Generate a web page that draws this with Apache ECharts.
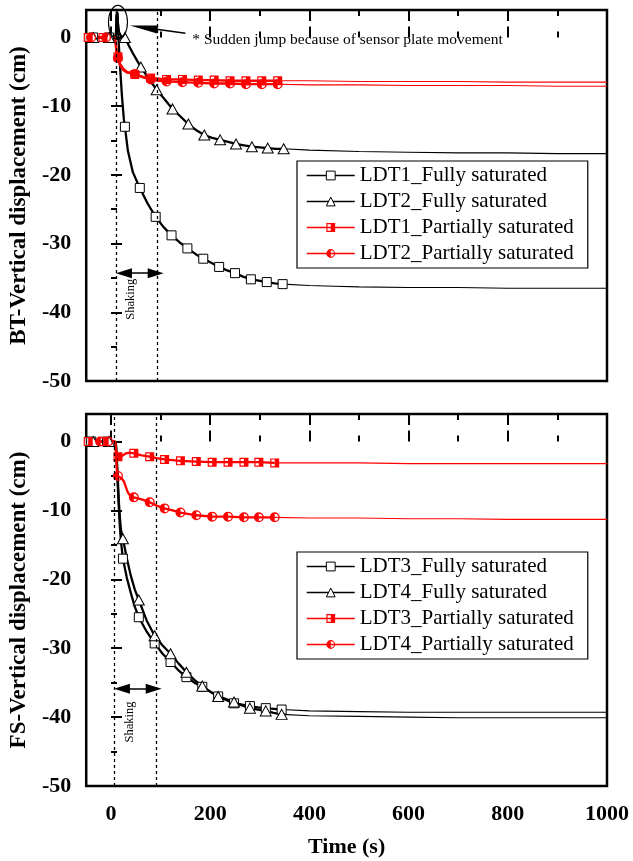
<!DOCTYPE html>
<html>
<head>
<meta charset="utf-8">
<script src="https://cdn.jsdelivr.net/npm/echarts@6.0.0/dist/echarts.min.js"></script>
<style>
html,body{margin:0;padding:0;background:#ffffff;}
#chart{width:633px;height:861px;}
</style>
</head>
<body>
<div id="chart"></div>
<script>
// ---------------- tick values ----------------
const xMajorTicks = [0, 200, 400, 600, 800, 1000];
const xMinorTicks = [100, 300, 500, 700, 900];
const yMajorTicks = [-50, -40, -30, -20, -10, 0];
const yMinorTicks = [-45, -35, -25, -15, -5];

const panelTitles = ['BT-Vertical displacement (cm)', 'FS-Vertical displacement (cm)'];
const xTitle = 'Time (s)';
const shakingLabel = 'Shaking';
const noteText = '* Sudden jump because of sensor plate movement';

// ---------------- BT panel (top) ----------------
// LDT1 fully saturated (open squares)
const btL1FullT = [-50, 8, 10, 11, 12, 13, 15, 18, 22, 26, 28, 34, 44, 58, 74, 90, 106, 122, 138, 154, 170, 186, 202, 218, 234, 250, 266, 282, 298, 314, 330, 346];
const btL1FullV = [0, 0, 0.5, 3.3, 1.0, 3.6, 0, -4, -8.5, -12, -13, -16.5, -19.6, -21.9, -24.2, -26.1, -27.6, -28.8, -29.8, -30.7, -31.5, -32.2, -32.8, -33.4, -33.9, -34.3, -34.8, -35.2, -35.4, -35.6, -35.8, -35.9];
const btL1FullTailT = [346, 400, 450, 500, 600, 700, 800, 900, 1000];
const btL1FullTailV = [-35.9, -36.1, -36.2, -36.3, -36.4, -36.4, -36.5, -36.5, -36.5];
const btL1FullMarkT = [-36, -4, 28, 58, 90, 122, 154, 186, 218, 250, 282, 314, 346];
const btL1FullMarkV = [0, 0, -13, -21.9, -26.1, -28.8, -30.7, -32.2, -33.4, -34.3, -35.2, -35.6, -35.9];

// LDT2 fully saturated (open triangles)
const btL2FullT = [-50, 8, 10, 12, 14, 16, 20, 28, 36, 44, 52, 60, 76, 92, 108, 124, 140, 156, 172, 188, 204, 220, 236, 252, 268, 284, 300, 316, 332, 348];
const btL2FullV = [0, 0, 0.5, 3.8, 2.0, 0.8, 0.2, 0, -1.2, -2.3, -3.3, -4.3, -6, -7.6, -9, -10.4, -11.5, -12.6, -13.5, -14.2, -14.6, -14.9, -15.2, -15.5, -15.7, -15.9, -16.0, -16.1, -16.2, -16.2];
const btL2FullTailT = [348, 400, 500, 600, 700, 800, 900, 1000];
const btL2FullTailV = [-16.2, -16.4, -16.6, -16.7, -16.8, -16.8, -16.9, -16.9];
const btL2FullMarkT = [-36, -4, 28, 60, 92, 124, 156, 188, 220, 252, 284, 316, 348];
const btL2FullMarkV = [0, 0, 0, -4.3, -7.6, -10.4, -12.6, -14.2, -14.9, -15.5, -15.9, -16.1, -16.2];

// LDT1 partially saturated (half-filled squares)
const btL1PartT = [-50, 8, 10, 12, 14, 18, 24, 32, 40, 48, 64, 80, 96, 112, 144, 176, 208, 240, 272, 304, 336];
const btL1PartV = [0, 0, -1, -2.5, -2.8, -3.8, -4.5, -5.0, -5.2, -5.4, -5.7, -5.9, -6.0, -6.1, -6.1, -6.2, -6.2, -6.3, -6.3, -6.3, -6.3];
const btL1PartTailT = [336, 400, 500, 600, 700, 800, 900, 1000];
const btL1PartTailV = [-6.3, -6.3, -6.4, -6.4, -6.4, -6.5, -6.5, -6.5];
const btL1PartMarkT = [-46, -16, 14, 48, 80, 112, 144, 176, 208, 240, 272, 304, 336];
const btL1PartMarkV = [0, 0, -2.8, -5.4, -5.9, -6.1, -6.1, -6.2, -6.2, -6.3, -6.3, -6.3, -6.3];

// LDT2 partially saturated (half-filled circles)
const btL2PartT = [-50, 8, 10, 12, 14, 18, 24, 32, 40, 48, 64, 80, 96, 112, 144, 176, 208, 240, 272, 304, 336];
const btL2PartV = [0, 0, -1.5, -2.7, -3.0, -4.0, -4.7, -5.1, -5.2, -5.3, -5.8, -6.1, -6.3, -6.4, -6.5, -6.6, -6.7, -6.7, -6.8, -6.8, -6.8];
const btL2PartTailT = [336, 400, 500, 600, 700, 800, 900, 1000];
const btL2PartTailV = [-6.8, -6.9, -6.9, -7.0, -7.0, -7.0, -7.1, -7.1];
const btL2PartMarkT = [-40, -10, 14, 48, 80, 112, 144, 176, 208, 240, 272, 304, 336];
const btL2PartMarkV = [0, 0, -3.0, -5.3, -6.1, -6.4, -6.5, -6.6, -6.7, -6.7, -6.8, -6.8, -6.8];

// ---------------- FS panel (bottom) ----------------
// LDT3 fully saturated (open squares)
const fsL3FullT = [-50, 8, 10, 12, 14, 16, 18, 20, 24, 32, 40, 48, 56, 72, 88, 104, 120, 136, 152, 168, 184, 200, 216, 232, 248, 264, 280, 296, 312, 328, 344];
const fsL3FullV = [0, 0, -0.5, -3.5, -7, -10, -12.5, -14.5, -17, -19.8, -22, -24, -25.5, -27.6, -29.3, -30.8, -32, -33.2, -34.2, -35, -35.6, -36.3, -37, -37.5, -38, -38.2, -38.4, -38.6, -38.7, -38.8, -38.9];
const fsL3FullTailT = [344, 400, 500, 600, 700, 800, 900, 1000];
const fsL3FullTailV = [-38.9, -39.1, -39.2, -39.3, -39.3, -39.3, -39.3, -39.3];
const fsL3FullMarkT = [-40, -8, 24, 56, 88, 120, 152, 184, 216, 248, 280, 312, 344];
const fsL3FullMarkV = [0, 0, -17, -25.5, -29.3, -32, -34.2, -35.6, -37, -38, -38.4, -38.7, -38.9];

// LDT4 fully saturated (open triangles)
const fsL4FullT = [-50, 8, 10, 12, 14, 16, 18, 20, 24, 32, 40, 48, 56, 72, 88, 104, 120, 136, 152, 168, 184, 200, 216, 232, 248, 264, 280, 296, 312, 328, 344];
const fsL4FullV = [0, 0, -0.5, -3, -6, -9, -11.2, -12.8, -14.1, -17, -19.5, -21.5, -23, -26, -28.2, -29.6, -30.8, -32.2, -33.5, -34.6, -35.5, -36.3, -37, -37.4, -37.8, -38.3, -38.7, -38.9, -39.1, -39.4, -39.6];
const fsL4FullTailT = [344, 400, 500, 600, 700, 800, 900, 1000];
const fsL4FullTailV = [-39.6, -39.8, -39.9, -40.0, -40.1, -40.1, -40.1, -40.1];
const fsL4FullMarkT = [-36, -4, 24, 56, 88, 120, 152, 184, 216, 248, 280, 312, 344];
const fsL4FullMarkV = [0, 0, -14.1, -23, -28.2, -30.8, -33.5, -35.5, -37, -37.8, -38.7, -39.1, -39.6];

// LDT3 partially saturated (half-filled squares)
const fsL3PartT = [-50, 8, 10, 12, 14, 18, 24, 30, 38, 46, 62, 78, 92, 108, 124, 140, 172, 204, 236, 268, 298, 330];
const fsL3PartV = [0, 0, -1, -2.2, -2.3, -2.3, -2.0, -1.7, -1.6, -1.7, -2.0, -2.2, -2.4, -2.6, -2.7, -2.8, -2.9, -3.0, -3.0, -3.0, -3.0, -3.1];
const fsL3PartTailT = [330, 400, 500, 600, 700, 800, 900, 1000];
const fsL3PartTailV = [-3.1, -3.1, -3.1, -3.2, -3.2, -3.2, -3.2, -3.2];
const fsL3PartMarkT = [-46, -14, 14, 46, 78, 108, 140, 172, 204, 236, 268, 298, 330];
const fsL3PartMarkV = [0, 0, -2.2, -1.7, -2.2, -2.6, -2.8, -2.9, -3.0, -3.0, -3.0, -3.0, -3.1];

// LDT4 partially saturated (half-filled circles)
const fsL4PartT = [-50, 8, 10, 12, 14, 18, 22, 26, 30, 34, 38, 46, 62, 78, 92, 108, 124, 140, 172, 204, 236, 268, 298, 330];
const fsL4PartV = [0, 0, -2, -4.5, -5.0, -5.2, -5.4, -5.8, -6.6, -7.4, -7.8, -8.1, -8.4, -8.8, -9.3, -9.7, -10.0, -10.3, -10.7, -10.9, -10.9, -11.0, -11.0, -11.0];
const fsL4PartTailT = [330, 400, 500, 600, 700, 800, 900, 1000];
const fsL4PartTailV = [-11.0, -11.1, -11.1, -11.2, -11.2, -11.3, -11.3, -11.3];
const fsL4PartMarkT = [-22, -6, 14, 46, 78, 108, 140, 172, 204, 236, 268, 298, 330];
const fsL4PartMarkV = [0, 0, -5.0, -8.1, -8.8, -9.7, -10.3, -10.7, -10.9, -10.9, -11.0, -11.0, -11.0];

// ---------------- annotation anchors (data coordinates) ----------------
const shakeStart = [10, 6];     // per panel: dotted line at shaking start (s)
const shakeEnd = [94, 92];      // per panel: dotted line at shaking end (s)
const arrowLevel = [-34.3, -35.9];
const arrowTip = [[10, 106], [6, 102]];

// ======================================================================
const FONT = 'Liberation Serif';
const RED = '#ff0000', BLACK = '#000000';
const HALF_SQ = 'path://M0,0 L10,0 L10,10 L0,10 Z M1.3,1.3 L1.3,8.7 L5,8.7 L5,1.3 Z';
const HALF_CI = 'path://M5,0 A5,5 0 1,1 5,10 A5,5 0 1,1 5,0 Z M5,1.3 L5,8.7 A3.7,3.7 0 0,0 5,1.3 Z';
const zip = (a, b) => a.map((x, i) => [x, b[i]]);

const curves = [
  {g: 0, name: 'LDT1_Fully saturated', kind: 'sq', lt: btL1FullT, lv: btL1FullV, tt: btL1FullTailT, tv: btL1FullTailV, mt: btL1FullMarkT, mv: btL1FullMarkV},
  {g: 0, name: 'LDT2_Fully saturated', kind: 'tri', lt: btL2FullT, lv: btL2FullV, tt: btL2FullTailT, tv: btL2FullTailV, mt: btL2FullMarkT, mv: btL2FullMarkV},
  {g: 0, name: 'LDT1_Partially saturated', kind: 'hsq', lt: btL1PartT, lv: btL1PartV, tt: btL1PartTailT, tv: btL1PartTailV, mt: btL1PartMarkT, mv: btL1PartMarkV},
  {g: 0, name: 'LDT2_Partially saturated', kind: 'hci', lt: btL2PartT, lv: btL2PartV, tt: btL2PartTailT, tv: btL2PartTailV, mt: btL2PartMarkT, mv: btL2PartMarkV},
  {g: 1, name: 'LDT3_Fully saturated', kind: 'sq', lt: fsL3FullT, lv: fsL3FullV, tt: fsL3FullTailT, tv: fsL3FullTailV, mt: fsL3FullMarkT, mv: fsL3FullMarkV},
  {g: 1, name: 'LDT4_Fully saturated', kind: 'tri', lt: fsL4FullT, lv: fsL4FullV, tt: fsL4FullTailT, tv: fsL4FullTailV, mt: fsL4FullMarkT, mv: fsL4FullMarkV},
  {g: 1, name: 'LDT3_Partially saturated', kind: 'hsq', lt: fsL3PartT, lv: fsL3PartV, tt: fsL3PartTailT, tv: fsL3PartTailV, mt: fsL3PartMarkT, mv: fsL3PartMarkV},
  {g: 1, name: 'LDT4_Partially saturated', kind: 'hci', lt: fsL4PartT, lv: fsL4PartV, tt: fsL4PartTailT, tv: fsL4PartTailV, mt: fsL4PartMarkT, mv: fsL4PartMarkV}
];

const symbolOf = {sq: 'rect', tri: 'triangle', hsq: HALF_SQ, hci: HALF_CI};
const sizeOf = {sq: 9, tri: [11, 10], hsq: 9, hci: 10};
const underOf = {hsq: 'rect', hci: 'circle'};

const thinS = [], thickS = [], underS = [], markS = [];
curves.forEach(c => {
  const red = c.kind === 'hsq' || c.kind === 'hci';
  const col = red ? RED : BLACK;
  const ax = {xAxisIndex: c.g * 4, yAxisIndex: c.g * 2};
  thinS.push(Object.assign({type: 'line', data: zip(c.tt, c.tv), symbol: 'none', silent: true,
    lineStyle: {color: col, width: 1.1}}, ax));
  thickS.push(Object.assign({type: 'line', data: zip(c.lt, c.lv), symbol: 'none', silent: true,
    lineStyle: {color: col, width: 2.3}}, ax));
  const md = zip(c.mt, c.mv);
  if (red) {
    underS.push(Object.assign({type: 'scatter', data: md, symbol: underOf[c.kind], symbolSize: sizeOf[c.kind],
      silent: true, itemStyle: {color: '#ffffff'}}, ax));
    markS.push(Object.assign({type: 'line', name: c.name, data: md, symbol: symbolOf[c.kind], symbolSize: sizeOf[c.kind],
      showSymbol: true, showAllSymbol: true, silent: true,
      itemStyle: {color: RED, borderColor: RED, borderWidth: 0},
      lineStyle: {width: 0, color: RED}}, ax));
  } else {
    markS.push(Object.assign({type: 'line', name: c.name, data: md, symbol: symbolOf[c.kind], symbolSize: sizeOf[c.kind],
      showSymbol: true, showAllSymbol: true, silent: true,
      itemStyle: {color: '#ffffff', borderColor: BLACK, borderWidth: 1},
      lineStyle: {width: 0, color: BLACK}}, ax));
  }
});

// markLines: dotted shaking bounds on first thin series of each panel; arrows on second
[0, 1].forEach(g => {
  const s1 = thinS[g * 4], s2 = thinS[g * 4 + 1];
  s1.markLine = {silent: true, symbol: 'none', animation: false, label: {show: false},
    lineStyle: {color: BLACK, width: 1.3, type: [3, 3]},
    data: [{xAxis: shakeStart[g]}, {xAxis: shakeEnd[g]}]};
  const headLen = 32; // in seconds (about 16 px)
  const data = [[
    {coord: [arrowTip[g][0] + headLen / 2, arrowLevel[g]], symbol: 'triangle', symbolSize: [10, 16]},
    {coord: [arrowTip[g][1] - headLen / 2, arrowLevel[g]], symbol: 'triangle', symbolSize: [10, 16]}
  ]];
  if (g === 0) {
    data.push([
      {coord: [150, 0.6], symbol: 'none'},
      {coord: [66, 1.45], symbol: 'triangle', symbolSize: [8, 28]}
    ]);
  }
  s2.markLine = {silent: true, animation: false, label: {show: false},
    lineStyle: {color: BLACK, width: 1.5, type: 'solid'}, data: data};
});

const series = [].concat(thinS, thickS, underS, markS);

const grids = [0, 1].map(g => ({
  left: 84, right: 26, top: g === 0 ? 10 : 414, height: g === 0 ? 371 : 372,
  show: true, borderColor: BLACK, borderWidth: 2.5, backgroundColor: 'transparent'
}));

const plainNum = v => String(v);
const xAxes = [], yAxes = [];
[0, 1].forEach(g => {
  const base = {type: 'value', gridIndex: g, min: -50, max: 1000, splitLine: {show: false}, axisLine: {show: false}};
  const tickStyle = {color: BLACK, width: 2};
  xAxes.push(Object.assign({}, base, {position: 'bottom',
    axisTick: {show: true, inside: true, length: 11, customValues: xMajorTicks, lineStyle: tickStyle},
    axisLabel: {show: g === 1, customValues: xMajorTicks, formatter: plainNum, margin: 17, color: BLACK, fontFamily: FONT, fontWeight: 'bold', fontSize: 22},
    name: g === 1 ? xTitle : '', nameLocation: 'middle', nameGap: 50,
    nameTextStyle: {color: BLACK, fontFamily: FONT, fontWeight: 'bold', fontSize: 22}}));
  xAxes.push(Object.assign({}, base, {position: 'bottom',
    axisTick: {show: true, inside: true, length: 6, customValues: xMinorTicks, lineStyle: tickStyle},
    axisLabel: {show: false}}));
  xAxes.push(Object.assign({}, base, {position: 'top',
    axisTick: {show: true, inside: true, length: 11, customValues: xMajorTicks, lineStyle: tickStyle},
    axisLabel: {show: false}}));
  xAxes.push(Object.assign({}, base, {position: 'top',
    axisTick: {show: true, inside: true, length: 6, customValues: xMinorTicks, lineStyle: tickStyle},
    axisLabel: {show: false}}));
  const ybase = {type: 'value', gridIndex: g, min: -50, max: 4, position: 'left', splitLine: {show: false}, axisLine: {show: false}};
  yAxes.push(Object.assign({}, ybase, {
    axisTick: {show: true, inside: true, length: 11, customValues: yMajorTicks, lineStyle: tickStyle},
    axisLabel: {show: true, customValues: yMajorTicks, formatter: plainNum, margin: 15, color: BLACK, fontFamily: FONT, fontWeight: 'bold', fontSize: 22},
    name: panelTitles[g], nameLocation: 'middle', nameGap: 51,
    nameTextStyle: {color: BLACK, fontFamily: FONT, fontWeight: 'bold', fontSize: 23}}));
  yAxes.push(Object.assign({}, ybase, {
    axisTick: {show: true, inside: true, length: 6, customValues: yMinorTicks, lineStyle: tickStyle},
    axisLabel: {show: false}}));
});

const legends = [0, 1].map(g => ({
  orient: 'vertical', left: 297, top: g === 0 ? 161 : 552,
  itemWidth: 48, itemHeight: 11, itemGap: 5, padding: [4, 14, 4, 9],
  borderColor: BLACK, borderWidth: 1.2, backgroundColor: '#ffffff',
  selectedMode: false,
  textStyle: {color: BLACK, fontFamily: FONT, fontSize: 21},
  lineStyle: {width: 1.5},
  itemStyle: {borderWidth: 1},
  data: curves.filter(c => c.g === g).map(c => {
    const red = c.kind === 'hsq' || c.kind === 'hci';
    return red ? {name: c.name, itemStyle: {borderWidth: 0}} : {name: c.name};
  })
}));

const chart = echarts.init(document.getElementById('chart'), null, {renderer: 'canvas'});
chart.setOption({
  animation: false,
  backgroundColor: '#ffffff',
  textStyle: {fontFamily: FONT},
  grid: grids, xAxis: xAxes, yAxis: yAxes, legend: legends, series: series
});

// graphic annotations positioned through the axes
const px = (g, t, v) => chart.convertToPixel({xAxisIndex: g * 4, yAxisIndex: g * 2}, [t, v]);
const e = px(0, 14, 2.2);
const note = px(0, 164, -0.3);
const sh0 = px(0, 40, -38.1);
const sh1 = px(1, 38, -40.7);
chart.setOption({
  graphic: [
    {type: 'ellipse', shape: {cx: e[0], cy: e[1], rx: 9.5, ry: 17}, style: {fill: 'none', stroke: BLACK, lineWidth: 1.1}, z: 100},
    {type: 'text', x: note[0], y: note[1], style: {text: noteText, fill: BLACK, font: '15.5px "Liberation Serif"', textAlign: 'left', textVerticalAlign: 'middle'}, z: 100},
    {type: 'text', x: sh0[0], y: sh0[1], rotation: Math.PI / 2, style: {text: shakingLabel, fill: BLACK, font: '12.5px "Liberation Serif"', textAlign: 'center', textVerticalAlign: 'middle'}, z: 100},
    {type: 'text', x: sh1[0], y: sh1[1], rotation: Math.PI / 2, style: {text: shakingLabel, fill: BLACK, font: '12.5px "Liberation Serif"', textAlign: 'center', textVerticalAlign: 'middle'}, z: 100}
  ]
});
</script>
</body>
</html>
